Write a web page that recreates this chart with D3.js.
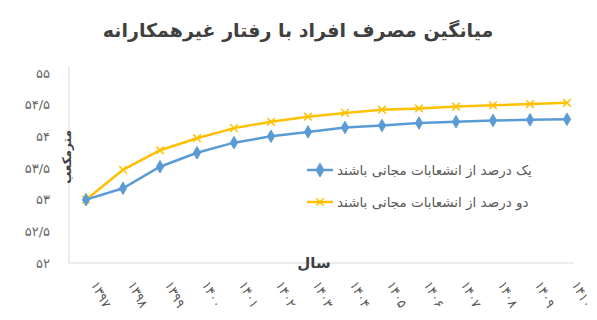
<!DOCTYPE html>
<html>
<head>
<meta charset="utf-8">
<script src="https://cdn.jsdelivr.net/npm/d3@7"></script>
<style>
  body { margin: 0; background: #fff; }
  svg { font-family: "DejaVu Sans", sans-serif; }
</style>
</head>
<body>
<div id="chart"></div>
<script>
const width = 597;
const height = 320;

// years on the x axis (Persian digits as in the picture)
const years = ["۱۳۹۷", "۱۳۹۸", "۱۳۹۹", "۱۴۰۰", "۱۴۰۱", "۱۴۰۲", "۱۴۰۳",
  "۱۴۰۴", "۱۴۰۵", "۱۴۰۶", "۱۴۰۷", "۱۴۰۸", "۱۴۰۹", "۱۴۱۰"];

// one percent of the branches free
const onePercent = [53.0, 53.18, 53.52, 53.74, 53.9, 54.0, 54.07,
  54.14, 54.17, 54.21, 54.23, 54.25, 54.26, 54.27];
// two percent of the branches free
const twoPercent = [53.0, 53.47, 53.78, 53.97, 54.13, 54.23, 54.31,
  54.37, 54.42, 54.44, 54.47, 54.49, 54.51, 54.53];

const yTicks = [52, 52.5, 53, 53.5, 54, 54.5, 55];
const yTickLabels = ["۵۲", "۵۲/۵", "۵۳", "۵۳/۵", "۵۴", "۵۴/۵", "۵۵"];

const seriesNames = ["یک درصد از انشعابات مجانی باشند", "دو درصد از انشعابات مجانی باشند"];
const title = "میانگین مصرف افراد با رفتار غیرهمکارانه";

const svg = d3.select("#chart")
  .append("svg")
  .attr("width", width)
  .attr("height", height);

const x = d3.scalePoint().domain(years).range([86, 567]);
const y = d3.scaleLinear().domain([52, 55]).range([263, 73]);

// title
svg.append("text")
  .attr("x", 298)
  .attr("y", 37)
  .attr("text-anchor", "middle")
  .attr("direction", "rtl")
  .style("font-size", "19px")
  .style("font-weight", "bold")
  .style("fill", "#404040")
  .text(title);

// plot frame: left and bottom lines
svg.append("line")
  .attr("x1", 69).attr("x2", 69)
  .attr("y1", 66).attr("y2", 263)
  .attr("stroke", "#d9d9d9");
svg.append("line")
  .attr("x1", 69).attr("x2", 574)
  .attr("y1", 263).attr("y2", 263)
  .attr("stroke", "#d9d9d9");

// y axis labels
const yAxis = svg.append("g")
  .attr("transform", "translate(50,0)")
  .call(d3.axisLeft(y).tickValues(yTicks)
    .tickFormat((d, i) => yTickLabels[i]).tickSize(0).tickPadding(0));
yAxis.select(".domain").remove();
yAxis.selectAll("text")
  .style("font-size", "13px")
  .style("font-family", "DejaVu Sans")
  .style("fill", "#666666");

// x axis labels, rotated
const xAxis = svg.append("g")
  .attr("transform", "translate(0,280)")
  .call(d3.axisBottom(x).tickSize(0).tickPadding(0));
xAxis.select(".domain").remove();
xAxis.selectAll("text")
  .attr("text-anchor", "start")
  .attr("dy", "0.35em")
  .attr("transform", "translate(8,2) rotate(62)")
  .style("font-size", "13px")
  .style("font-family", "DejaVu Sans")
  .style("fill", "#595959");

// axis titles
svg.append("text")
  .attr("x", 314)
  .attr("y", 268)
  .attr("text-anchor", "middle")
  .style("font-size", "15px")
  .style("font-weight", "bold")
  .style("fill", "#404040")
  .text("سال");

svg.append("text")
  .attr("transform", "translate(71,157) rotate(-90)")
  .attr("text-anchor", "middle")
  .style("font-size", "12px")
  .style("font-weight", "bold")
  .style("fill", "#404040")
  .text("مترمکعب");

const line = d3.line()
  .x((d, i) => x(years[i]))
  .y((d) => y(d));

const blue = "#5b9bd5";
const gold = "#ffc000";

// yellow series
svg.append("path")
  .datum(twoPercent)
  .attr("fill", "none")
  .attr("stroke", gold)
  .attr("stroke-width", 2.5)
  .attr("d", line);

svg.append("g").selectAll("path")
  .data(twoPercent)
  .join("path")
  .attr("transform", (d, i) => `translate(${x(years[i])},${y(d)})`)
  .attr("d", d3.symbol(d3.symbolX, 40))
  .attr("fill", "none")
  .attr("stroke", gold)
  .attr("stroke-width", 1.5);

// blue series
svg.append("path")
  .datum(onePercent)
  .attr("fill", "none")
  .attr("stroke", blue)
  .attr("stroke-width", 2.5)
  .attr("d", line);

svg.append("g").selectAll("path")
  .data(onePercent)
  .join("path")
  .attr("transform", (d, i) => `translate(${x(years[i])},${y(d)})`)
  .attr("d", d3.symbol(d3.symbolDiamond, 45))
  .attr("fill", blue)
  .attr("stroke", blue);

// legend
const legend = svg.append("g");
[[blue, d3.symbolDiamond], [gold, d3.symbolX]].forEach(([c, sym], i) => {
  const ly = 170 + i * 32;
  legend.append("line")
    .attr("x1", 307).attr("x2", 333)
    .attr("y1", ly).attr("y2", ly)
    .attr("stroke", c).attr("stroke-width", 2.5);
  legend.append("path")
    .attr("transform", `translate(320,${ly})`)
    .attr("d", d3.symbol(sym, i === 0 ? 45 : 40))
    .attr("fill", i === 0 ? c : "none")
    .attr("stroke", c)
    .attr("stroke-width", 1.5);
  legend.append("text")
    .attr("x", 337)
    .attr("y", ly)
    .attr("dy", "0.35em")
    .attr("text-anchor", "end")
    .attr("direction", "rtl")
    .style("font-size", "13.5px")
    .style("fill", "#595959")
    .text(seriesNames[i]);
});
</script>
</body>
</html>
